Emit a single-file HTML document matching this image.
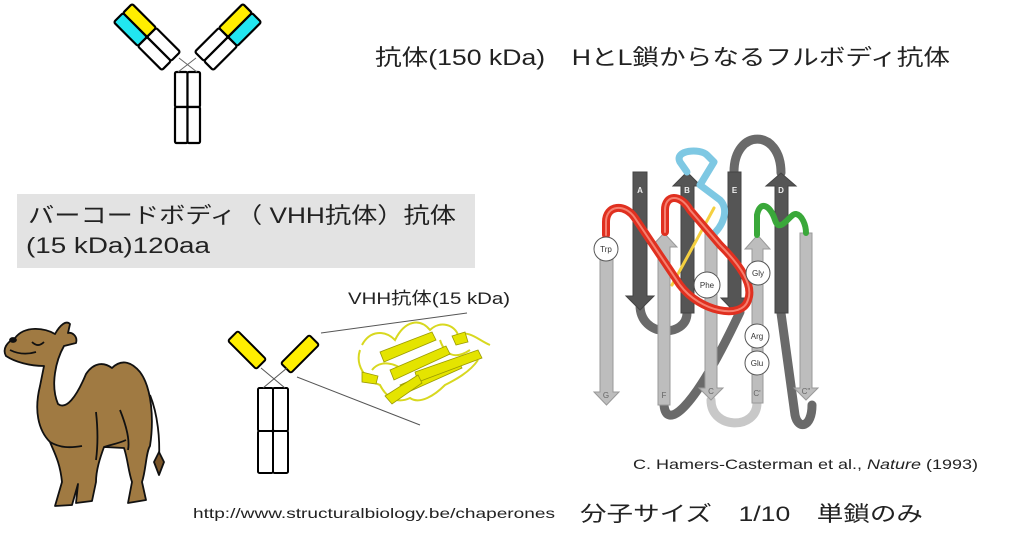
<!DOCTYPE html>
<html><head><meta charset="utf-8"><style>
html,body{margin:0;padding:0;background:#fff;}
svg{display:block;}
text{font-family:"Liberation Sans","Noto Sans CJK JP",sans-serif;}
</style></head><body>
<svg width="1024" height="545" viewBox="0 0 1024 545" xmlns="http://www.w3.org/2000/svg">
<rect width="1024" height="545" fill="#fff"/>

<!-- Top full antibody -->
<g stroke="#000" stroke-width="2.2">
<g transform="translate(147,37) rotate(45)">
<rect x="-34" y="-13" width="34" height="13" rx="2" fill="#ffee00"/>
<rect x="0" y="-13" width="34" height="13" rx="2" fill="#fff"/>
<rect x="-34" y="0" width="34" height="13" rx="2" fill="#22e6f0"/>
<rect x="0" y="0" width="34" height="13" rx="2" fill="#fff"/>
</g>
<g transform="translate(375,0) scale(-1,1) translate(147,37) rotate(45)">
<rect x="-34" y="-13" width="34" height="13" rx="2" fill="#ffee00"/>
<rect x="0" y="-13" width="34" height="13" rx="2" fill="#fff"/>
<rect x="-34" y="0" width="34" height="13" rx="2" fill="#22e6f0"/>
<rect x="0" y="0" width="34" height="13" rx="2" fill="#fff"/>
</g>
<rect x="175" y="72" width="12.5" height="35" rx="1.5" fill="#fff"/>
<rect x="187.5" y="72" width="12.5" height="35" rx="1.5" fill="#fff"/>
<rect x="175" y="107" width="12.5" height="36" rx="1.5" fill="#fff"/>
<rect x="187.5" y="107" width="12.5" height="36" rx="1.5" fill="#fff"/>
</g>
<g stroke="#666" stroke-width="1">
<line x1="179" y1="58" x2="197" y2="72"/><line x1="196" y1="58" x2="178" y2="72"/>
</g>

<text x="375" y="65" font-size="22" fill="#222" textLength="575" lengthAdjust="spacingAndGlyphs">抗体(150 kDa)　HとL鎖からなるフルボディ抗体</text>

<!-- gray box -->
<rect x="17" y="194" width="458" height="74" fill="#e3e3e3"/>
<text x="28" y="223" font-size="22" fill="#222" textLength="428" lengthAdjust="spacingAndGlyphs">バーコードボディ（ VHH抗体）抗体</text>
<text x="26" y="253" font-size="22" fill="#222" textLength="184" lengthAdjust="spacingAndGlyphs">(15 kDa)120aa</text>

<!-- camel -->
<g stroke="#111" stroke-width="1.8" fill="#a07a42" stroke-linejoin="round">
<path d="M150,395 C158,415 160,440 159,458" fill="none"/>
<path d="M159,452 L164,462 L159,475 L154,462 Z" fill="#7a5528"/>
<path d="M15,338 C25,325 45,328 55,334 C60,325 66,320 70,324 L68,333 C72,332 78,336 76,343 L64,346 C56,360 50,385 58,404 C66,410 76,398 86,374 C94,362 104,362 112,368 C120,360 130,360 140,372 C152,388 154,420 150,446 C146,452 146,470 142,482 L146,500 L128,503 L132,482 C128,470 128,460 124,448 L104,447 C100,458 96,470 96,482 L92,501 L76,503 L78,484 L72,505 L55,506 L62,482 C60,462 54,452 50,442 C38,430 34,410 40,386 L44,366 C30,366 15,362 6,356 C2,349 7,342 15,338 Z"/>
<path d="M50,442 C60,448 70,448 82,446 M104,447 C110,445 120,443 126,440 M96,412 C98,430 98,445 96,460 M120,410 C126,425 130,440 128,450" fill="none"/>
<ellipse cx="13" cy="340" rx="3" ry="2" fill="#111"/>
<path d="M32,342 C36,346 40,346 44,342 M10,350 C18,354 26,355 36,352" fill="none"/>
</g>

<!-- VHH antibody -->
<g stroke="#000" stroke-width="2">
<rect x="-20" y="-7" width="40" height="14" rx="2" fill="#ffee00" transform="translate(247,350) rotate(45)"/>
<rect x="-20" y="-7" width="40" height="14" rx="2" fill="#ffee00" transform="translate(300,354) rotate(-45)"/>
<rect x="258" y="388" width="15" height="43" rx="1.5" fill="#fff"/>
<rect x="273" y="388" width="15" height="43" rx="1.5" fill="#fff"/>
<rect x="258" y="431" width="15" height="42" rx="1.5" fill="#fff"/>
<rect x="273" y="431" width="15" height="42" rx="1.5" fill="#fff"/>
</g>
<g stroke="#555" stroke-width="1">
<line x1="261" y1="368" x2="285" y2="388"/><line x1="287" y1="368" x2="263" y2="388"/>
<line x1="321" y1="333" x2="467" y2="313"/><line x1="297" y1="377" x2="420" y2="425"/>
</g>
<text x="348" y="304" font-size="17" fill="#222" textLength="162" lengthAdjust="spacingAndGlyphs">VHH抗体(15 kDa)</text>

<!-- protein ribbon -->
<g fill="none" stroke="#d8d820" stroke-width="2">
<path d="M362,345 C370,330 385,330 395,340 C405,320 420,318 430,330 C440,320 455,325 458,335 C470,330 478,340 490,345"/>
<path d="M360,350 C355,365 365,380 380,385 C385,395 395,405 410,398 C420,405 435,395 445,385 C455,380 470,372 478,360"/>
<path d="M372,370 C380,360 395,362 405,372 M440,340 C445,355 455,360 470,350"/>
</g>
<g fill="#e4e400" stroke="#9a9a00" stroke-width="0.8">
<polygon points="380,352 432,332 436,340 384,362"/>
<polygon points="390,370 446,346 450,354 394,380"/>
<polygon points="400,385 458,360 462,368 404,394"/>
<polygon points="415,372 478,350 482,358 418,382"/>
<polygon points="385,396 418,375 422,383 392,404"/>
<polygon points="362,372 378,376 376,384 362,382"/>
<polygon points="452,336 465,332 468,342 456,345"/>
</g>

<!-- beta barrel diagram -->
<g stroke-linecap="round" fill="none">
<path d="M640,305 C640,338 687,338 687,313" stroke="#6a6a6a" stroke-width="9"/>
<path d="M734,172 C734,128 781,128 781,173" stroke="#6a6a6a" stroke-width="9"/>
<path d="M664,405 C666,428 690,418 740,312" stroke="#6a6a6a" stroke-width="9"/>
<path d="M711,400 C711,430 757,430 757,403" stroke="#c8c8c8" stroke-width="9"/>
<path d="M781,313 L795,415 C798,430 812,428 812,405" stroke="#6a6a6a" stroke-width="9"/>
</g>
<g fill="#bdbdbd" stroke="#999" stroke-width="1">
<path d="M600,245 H613 V392 H619 L606.5,405 L594,392 H600 Z"/>
<path d="M658,247 H651 L664,233 L677,247 H670 V405 H658 Z"/>
<path d="M705,233 H717 V388 H723 L711,400 L699,388 H705 Z"/>
<path d="M752,249 H745 L757.5,235 L770,249 H763 V403 H752 Z"/>
<path d="M800,233 H812 V388 H818 L806,400 L794,388 H800 Z"/>
</g>
<g fill="#555" stroke="#444" stroke-width="1">
<path d="M633,172 H647 V296 H654 L640,310 L626,296 H633 Z"/>
<path d="M681,186 H673 L687,172 L701,186 H694 V313 H681 Z"/>
<path d="M728,172 H741 V298 H748 L734.5,312 L721,298 H728 Z"/>
<path d="M775,186 H766 L781,173 L796,186 H788 V313 H775 Z"/>
</g>
<g fill="none" stroke-linecap="round" stroke-linejoin="round">
<path d="M687,172 L680,162 C674,150 700,148 707,155 L714,162 L700,185 L720,200 C730,210 722,228 712,235" stroke="#7ec8e3" stroke-width="7"/>
<path d="M672,285 L714,208" stroke="#f5d040" stroke-width="3"/>
<path d="M606,235 L606,222 C606,205 625,203 635,218 L680,285 C700,312 742,320 748,300 C754,285 740,265 720,245 L690,210 C680,193 665,195 665,210 L665,232" stroke="#e03020" stroke-width="8"/>
<path d="M606,235 L606,222 C606,205 625,203 635,218 L680,285 C700,312 742,320 748,300 C754,285 740,265 720,245 L690,210 C680,193 665,195 665,210 L665,232" stroke="#f58070" stroke-width="2"/>
<path d="M757,235 L757,215 C760,200 770,205 775,220 C780,235 790,213 796,214 C802,215 806,225 806,233" stroke="#3aa83a" stroke-width="6"/>
</g>
<g fill="#fff" stroke="#555" stroke-width="1">
<circle cx="606" cy="249" r="12"/><circle cx="707" cy="285" r="13"/><circle cx="758" cy="273" r="12"/><circle cx="757" cy="336" r="12"/><circle cx="757" cy="363" r="12"/>
</g>
<g font-size="8" fill="#333" text-anchor="middle">
<text x="606" y="252">Trp</text><text x="707" y="288">Phe</text><text x="758" y="276">Gly</text><text x="757" y="339">Arg</text><text x="757" y="366">Glu</text>
</g>
<g font-size="8" font-weight="bold" text-anchor="middle" fill="#eee">
<text x="640" y="193">A</text><text x="687" y="193">B</text><text x="734.5" y="193">E</text><text x="781" y="193">D</text>
</g>
<g font-size="8" text-anchor="middle" fill="#666">
<text x="606" y="398">G</text><text x="664" y="398">F</text><text x="711" y="394">C</text><text x="757" y="396">C'</text><text x="806" y="394">C''</text>
</g>

<text x="633" y="469" font-size="14" fill="#222" textLength="345" lengthAdjust="spacingAndGlyphs">C. Hamers-Casterman et al., <tspan font-style="italic">Nature</tspan> (1993)</text>
<text x="193" y="518" font-size="14" fill="#222" textLength="362" lengthAdjust="spacingAndGlyphs">http://www.structuralbiology.be/chaperones</text>
<text x="580" y="521" font-size="21" fill="#222" textLength="343" lengthAdjust="spacingAndGlyphs">分子サイズ　1/10　単鎖のみ</text>
</svg>
</body></html>
